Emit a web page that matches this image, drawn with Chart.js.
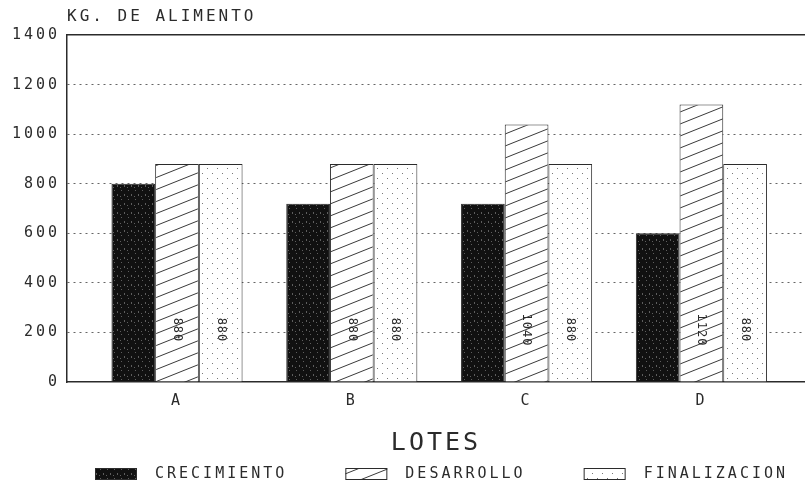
<!DOCTYPE html>
<html>
<head>
<meta charset="utf-8">
<script src="https://cdn.jsdelivr.net/npm/chart.js@4"></script>
<style>
  html, body { margin: 0; padding: 0; background: #fff; }
  #wrap { width: 805px; height: 493px; }
</style>
</head>
<body>
<div id="wrap"><canvas id="chart"></canvas></div>
<script>
const lotes = ["A", "B", "C", "D"]
const crecimiento = [800, 720, 720, 600]
const desarrollo = [880, 880, 1040, 1120]
const finalizacion = [880, 880, 880, 880]
const yTicks = [0, 200, 400, 600, 800, 1000, 1200, 1400]
const seriesNames = ["CRECIMIENTO", "DESARROLLO", "FINALIZACION"]

const ink = "#2b2b2b"
const mono = "'DejaVu Sans Mono', monospace"
const labelLevel = 210 // height where the rotated value labels sit

// fill textures like the old plotter output
function makePattern(w, h, paint) {
  const c = document.createElement("canvas")
  c.width = w
  c.height = h
  const g = c.getContext("2d")
  paint(g, w, h)
  return g.createPattern(c, "repeat")
}

const solidFill = makePattern(7, 9, (g, w, h) => {
  g.fillStyle = "#111"
  g.fillRect(0, 0, w, h)
  g.fillStyle = "#5e5e5e"
  g.fillRect(2, 1, 1, 1)
  g.fillRect(5, 5, 1, 2)
  g.fillRect(1, 7, 1, 1)
})

const hatchFill = makePattern(30, 12, (g, w, h) => {
  g.fillStyle = "#fff"
  g.fillRect(0, 0, w, h)
  g.strokeStyle = "#3a3a3a"
  g.lineWidth = 1
  for (const dy of [-h, 0, h]) {
    g.beginPath()
    g.moveTo(-w, 2 * h + dy)
    g.lineTo(2 * w, -h + dy)
    g.stroke()
  }
})

const dotFill = makePattern(10, 10, (g, w, h) => {
  g.fillStyle = "#fff"
  g.fillRect(0, 0, w, h)
  g.fillStyle = "#777"
  g.fillRect(2, 3, 1, 1)
  g.fillRect(7, 8, 1, 1)
})

const series = [crecimiento, desarrollo, finalizacion]
const fills = [solidFill, hatchFill, dotFill]

const datasets = series.map((values, s) => ({
  label: seriesNames[s],
  data: values.map((v, i) => ({ x: i, y: v })),
  backgroundColor: fills[s],
  borderColor: ink,
  borderWidth: 1,
  categoryPercentage: 0.75,
  barPercentage: 1
}))

// the plotter font is wide-spaced
const spacing = {
  id: "spacing",
  beforeLayout(chart) { chart.ctx.letterSpacing = "3px" },
  beforeDraw(chart) { chart.ctx.letterSpacing = "3px" }
}

const valueLabels = {
  id: "valueLabels",
  afterDatasetsDraw(chart) {
    const { ctx } = chart
    const cy = chart.scales.y.getPixelForValue(labelLevel)
    ctx.save()
    ctx.font = "12px " + mono
    ctx.letterSpacing = "1px"
    ctx.fillStyle = ink
    ctx.textAlign = "center"
    ctx.textBaseline = "middle"
    for (const s of [1, 2]) {
      chart.getDatasetMeta(s).data.forEach((bar, i) => {
        ctx.save()
        ctx.translate(bar.x, cy)
        ctx.rotate(Math.PI / 2)
        ctx.fillText(String(series[s][i]), 0, 0)
        ctx.restore()
      })
    }
    ctx.restore()
  }
}

const legendRow = {
  id: "legendRow",
  afterDraw(chart) {
    const { ctx, chartArea } = chart
    ctx.save()
    ctx.font = "15px " + mono
    ctx.letterSpacing = "3px"
    ctx.textBaseline = "middle"
    const y = chart.height - 19
    let x = chartArea.left + 28
    chart.data.datasets.forEach(ds => {
      ctx.fillStyle = ds.backgroundColor
      ctx.fillRect(x, y - 6, 42, 12)
      ctx.strokeStyle = ink
      ctx.lineWidth = 1
      ctx.strokeRect(x + 0.5, y - 5.5, 41, 11)
      ctx.fillStyle = ink
      ctx.fillText(ds.label, x + 60, y)
      x += 60 + ctx.measureText(ds.label).width + 58
    })
    ctx.restore()
  }
}

Chart.defaults.font.family = mono
Chart.defaults.color = ink

new Chart(document.getElementById("chart"), {
  type: "bar",
  data: { datasets },
  plugins: [spacing, valueLabels, legendRow],
  options: {
    responsive: true,
    maintainAspectRatio: false,
    animation: false,
    layout: { padding: { left: 0, right: 0, top: 0, bottom: 35 } },
    plugins: {
      legend: { display: false },
      tooltip: { enabled: false },
      title: {
        display: true,
        text: "KG. DE ALIMENTO",
        align: "start",
        fullSize: false,
        color: ink,
        font: { family: mono, size: 16, weight: "normal" },
        padding: { top: 7, bottom: 9 }
      }
    },
    scales: {
      x: {
        type: "linear",
        offset: false,
        min: -0.6293,
        max: 3.5927,
        afterBuildTicks: scale => { scale.ticks = lotes.map((_, i) => ({ value: i })) },
        ticks: {
          callback: v => lotes[v],
          font: { size: 15 },
          padding: 10,
          maxRotation: 0,
          autoSkip: false
        },
        grid: { display: false, drawTicks: false },
        border: { color: ink, width: 1.5 },
        title: {
          display: true,
          text: "LOTES",
          font: { size: 25 },
          padding: { top: 8, bottom: 0 }
        }
      },
      top: {
        type: "linear",
        position: "top",
        offset: false,
        ticks: { display: false },
        grid: { display: false, drawTicks: false },
        border: { display: true, color: ink, width: 1.5 }
      },
      y: {
        min: 0,
        max: 1400,
        afterBuildTicks: scale => { scale.ticks = yTicks.map(v => ({ value: v })) },
        afterFit: scale => { scale.width = 67 },
        ticks: { font: { size: 15 }, padding: 7, callback: v => String(v) },
        grid: {
          drawTicks: false,
          lineWidth: 1,
          color: c => (c.tick && (c.tick.value === 0 || c.tick.value === 1400)) ? "rgba(0,0,0,0)" : "#666"
        },
        border: { color: ink, width: 1.5, dash: [2, 4] }
      }
    }
  }
})
</script>
</body>
</html>
